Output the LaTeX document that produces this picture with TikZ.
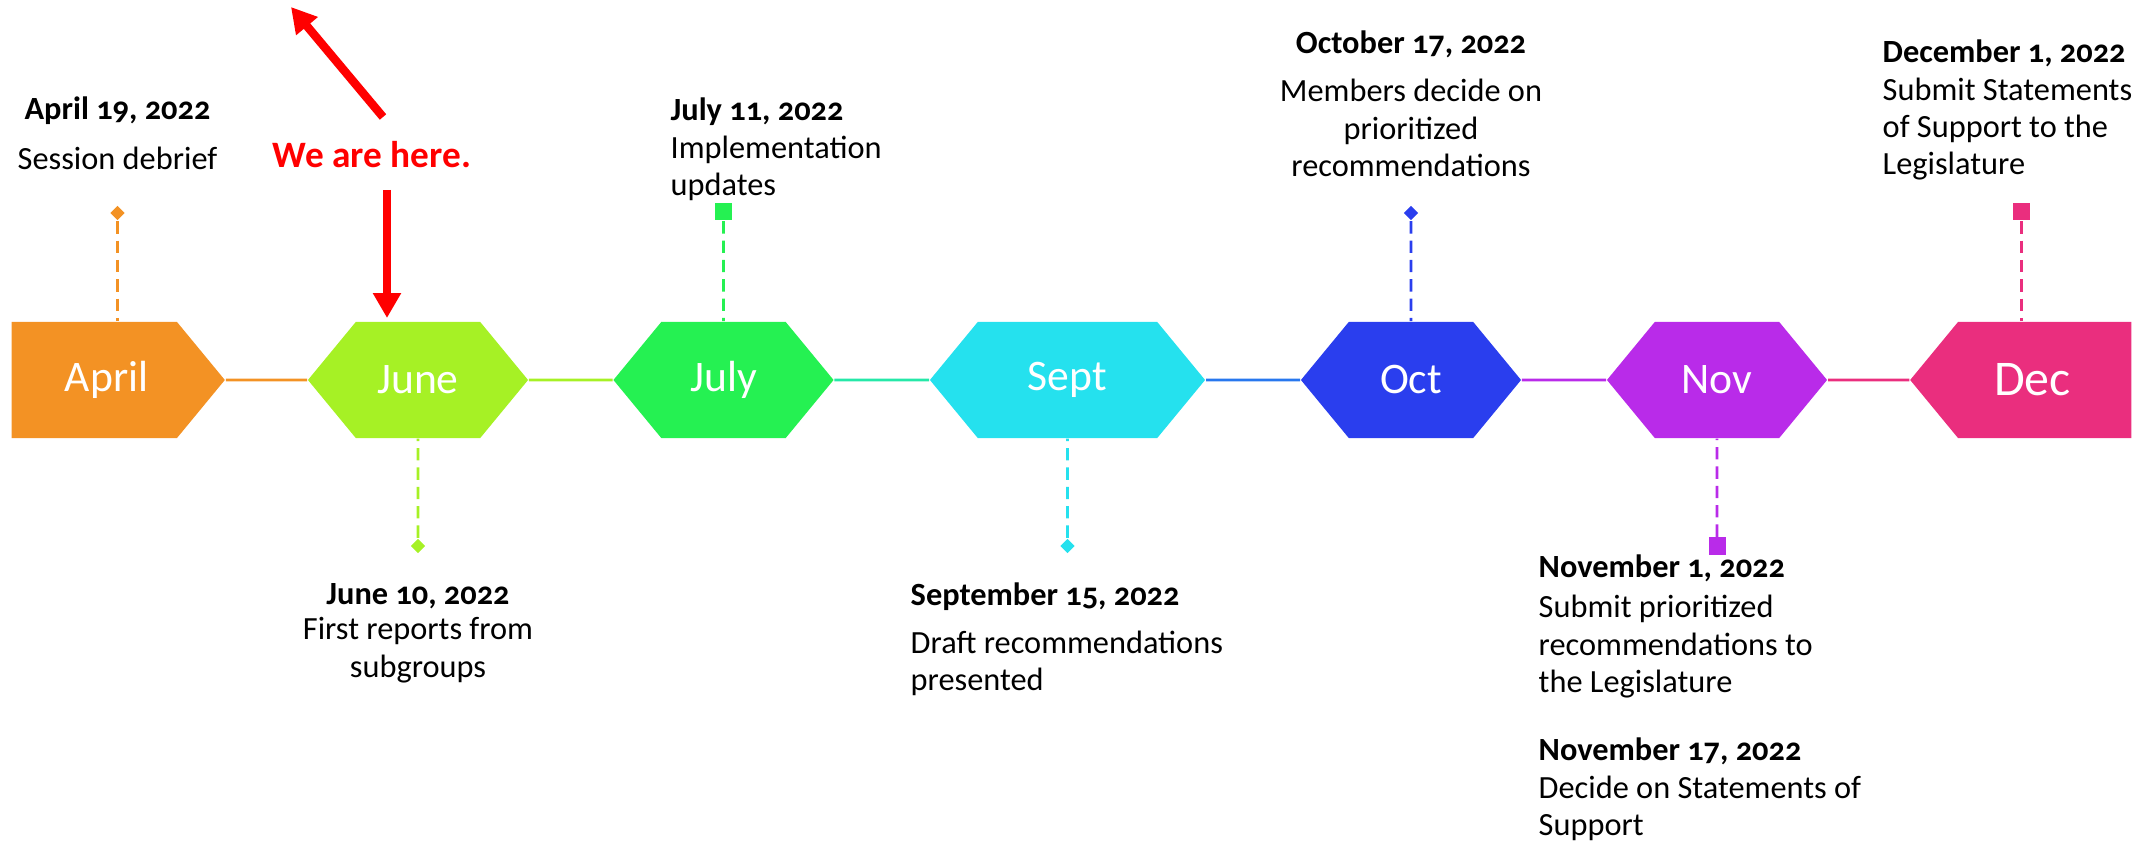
\documentclass[tikz,border=0pt]{standalone}
\usepackage{fontspec}
\setmainfont[Numbers=OldStyle]{Carlito}
\usetikzlibrary{shapes,arrows.meta}

\definecolor{aprcol}{RGB}{243,146,36}
\definecolor{juncol}{RGB}{166,241,37}
\definecolor{julcol}{RGB}{37,241,82}
\definecolor{sepcol}{RGB}{37,225,238}
\definecolor{octcol}{RGB}{42,62,238}
\definecolor{novcol}{RGB}{185,43,233}
\definecolor{deccol}{RGB}{234,46,126}

\tikzset{
  month/.style={signal, signal to=east and west, signal pointer angle=101,
    minimum width=2.2cm, minimum height=1.16cm, inner sep=0pt,
    text=white, font=\fontsize{12.4}{14}\selectfont},
  stem/.style={line width=0.8pt, dash pattern=on 3.5pt off 2pt},
  dmark/.style={diamond, minimum size=0.15cm, inner sep=0pt},
  smark/.style={rectangle, minimum size=0.17cm, inner sep=0pt},
  event/.style={inner sep=0pt, align=center, font=\fontsize{9.2}{10.6}\selectfont},
  eventl/.style={event, align=left, anchor=north west},
  redarrow/.style={red, line width=2.4pt, -{Triangle[length=7.1pt,width=7.6pt]}}
}

\begin{document}
\begin{tikzpicture}[x=0.01cm,y=-0.01cm]
  \useasboundingbox (0,0) rectangle (2150,846);
  % Timeline
  \node[month, signal to=east, minimum width=2.13cm, fill=aprcol, anchor=west] (Apr) at (11,380) {\kern7pt\raisebox{-2pt}{April}};
  \node[month, fill=juncol] (Jun) at (418,380) {June};
  \node[month, fill=julcol] (Jul) at (723.5,380) {July};
  \node[month, minimum width=2.75cm, fill=sepcol] (Sep) at (1067.5,380) {Sept};
  \node[month, fill=octcol] (Oct) at (1411,380) {Oct};
  \node[month, fill=novcol] (Nov) at (1717,380) {Nov};
  \node[month, signal to=west, minimum width=2.21cm, fill=deccol, anchor=east,
    font=\fontsize{14.2}{16}\selectfont] (Dec) at (2132,380) {Dec\kern7pt};

  \draw [aprcol, line width=0.8pt] (Apr) -- (Jun);
  \draw [juncol, line width=0.8pt] (Jun) -- (Jul);
  \draw [julcol!45!sepcol, line width=0.8pt] (Jul) -- (Sep);
  \draw [sepcol!35!octcol, line width=0.8pt] (Sep) -- (Oct);
  \draw [novcol, line width=0.8pt] (Oct) -- (Nov);
  \draw [deccol, line width=0.8pt] (Nov) -- (Dec);

  % Markers
  \node[dmark, fill=aprcol] (AprDot) at (117.5,213) {};
  \node[dmark, fill=juncol] (JunDot) at (418,546) {};
  \node[smark, fill=julcol] (JulDot) at (723.5,212) {};
  \node[dmark, fill=sepcol] (SepDot) at (1067.5,546) {};
  \node[dmark, fill=octcol] (OctDot) at (1411,213) {};
  \node[smark, fill=novcol] (NovDot) at (1717,546) {};
  \node[smark, fill=deccol] (DecDot) at (2021.5,212) {};

  \draw [stem, aprcol] (AprDot) -- (AprDot |- Apr.north);
  \draw [stem, juncol] (JunDot) -- (Jun);
  \draw [stem, julcol] (JulDot) -- (Jul);
  \draw [stem, sepcol] (SepDot) -- (Sep);
  \draw [stem, octcol] (OctDot) -- (Oct);
  \draw [stem, novcol] (NovDot) -- (Nov);
  \draw [stem, deccol] (DecDot) -- (DecDot |- Dec.north);

  % Events
  \node[event, anchor=north] (AprTxt) at (117.5,93)
    {\strut\textbf{April 19, 2022}\\[3.4pt]Session debrief};
  \node[event, anchor=north] (JunTxt) at (418,578)
    {\strut\textbf{June 10, 2022}\\[-0.6pt]First reports from\\subgroups};
  \node[eventl] (JulTxt) at (670,94)
    {\strut\textbf{July 11, 2022}\\Implementation\\updates};
  \node[eventl] (SepTxt) at (910,579)
    {\strut\textbf{September 15, 2022}\\[3pt]Draft recommendations\\presented};
  \node[event, anchor=north] (OctTxt) at (1411,27)
    {\strut\textbf{October 17, 2022}\\[3.1pt]Members decide on\\prioritized\\recommendations};
  \node[eventl] (NovTxt) at (1538,551)
    {\strut\textbf{November 1, 2022}\\[0.8pt]Submit prioritized\\recommendations to\\the Legislature};
  \node[eventl] (NovTxtB) at (1538,734)
    {\strut\textbf{November 17, 2022}\\Decide on Statements of\\Support};
  \node[eventl] (DecTxt) at (1882,36)
    {\strut\textbf{December 1, 2022}\\Submit Statements\\of Support to the\\Legislature};

  % We are here
  \node[red, inner sep=0pt, anchor=base, font=\fontsize{10.6}{12}\selectfont\bfseries] (Here) at (372,168) {We are here.};
  \coordinate (upTail) at (383,117);
  \coordinate (upTip) at (291,7);
  \coordinate (downTail) at (387,190);
  \coordinate (downTip) at (387,318);
  \draw [redarrow] (upTail) -- (upTip);
  \draw [redarrow] (downTail) -- (downTip);

\end{tikzpicture}
\end{document}
